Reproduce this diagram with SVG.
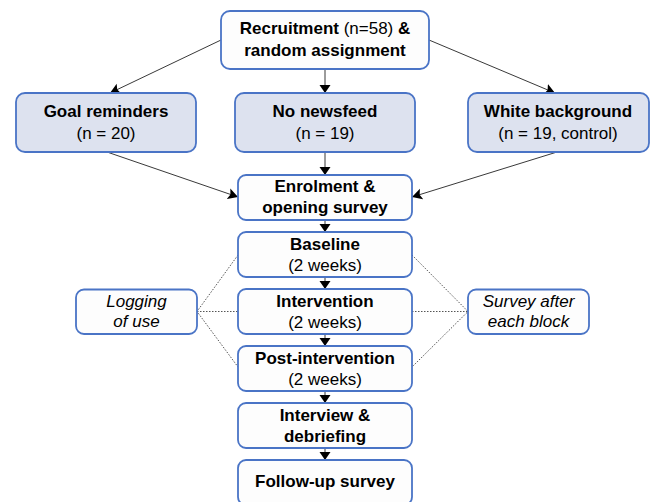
<svg xmlns="http://www.w3.org/2000/svg" width="652" height="502" viewBox="0 0 652 502">
<style>
.box{fill:#fdfdfd;stroke:#4a74c6;stroke-width:1.8}
.grp{fill:#dde2ef;stroke:#4a74c6;stroke-width:1.8}
.t{font-family:"Liberation Sans",Arial,sans-serif;font-size:17px;fill:#000;text-anchor:middle}
.b{font-weight:bold}
.i{font-style:italic}
.ln{fill:none;stroke:#222;stroke-width:0.9}
.dt{fill:none;stroke:#555;stroke-width:1;stroke-dasharray:1.5 1.5}
</style>
<defs>
<marker id="arr" markerUnits="userSpaceOnUse" markerWidth="12" markerHeight="12" viewBox="0 0 12 12" refX="10" refY="6" orient="auto">
<path d="M0,0.5 L10,6 L0,11.5 L2,6 Z" fill="#000"/>
</marker>
<marker id="tri" markerUnits="userSpaceOnUse" markerWidth="12" markerHeight="12" viewBox="0 0 12 12" refX="8" refY="6" orient="auto">
<path d="M0,0.5 L8,6 L0,11.5 Z" fill="#000"/>
</marker>
</defs>
<g id="connectors">
<line class="ln" x1="221" y1="40" x2="110" y2="93" marker-end="url(#arr)"/>
<line class="ln" x1="325" y1="69" x2="325" y2="93" marker-end="url(#tri)"/>
<line class="ln" x1="429" y1="40" x2="555" y2="93" marker-end="url(#arr)"/>
<line class="ln" x1="107" y1="152" x2="238" y2="197" marker-end="url(#arr)"/>
<line class="ln" x1="325" y1="152" x2="325" y2="175" marker-end="url(#tri)"/>
<line class="ln" x1="557" y1="152" x2="412" y2="197" marker-end="url(#arr)"/>
<line class="ln" x1="325" y1="220" x2="325" y2="232" marker-end="url(#tri)"/>
<line class="ln" x1="325" y1="277" x2="325" y2="289" marker-end="url(#tri)"/>
<line class="ln" x1="325" y1="334" x2="325" y2="346" marker-end="url(#tri)"/>
<line class="ln" x1="325" y1="391" x2="325" y2="403" marker-end="url(#tri)"/>
<line class="ln" x1="325" y1="448" x2="325" y2="460" marker-end="url(#tri)"/>
<polyline class="dt" points="238,255 197,311.5 238,367"/>
<line class="dt" x1="197" y1="311.5" x2="238" y2="311.5"/>
<polyline class="dt" points="412,255 468,311.5 412,367"/>
<line class="dt" x1="412" y1="311.5" x2="468" y2="311.5"/>
</g>
<g id="recruitment">
<rect class="box" x="221" y="11" width="208" height="58" rx="9"/>
<text class="t" x="325" y="34"><tspan class="b">Recruitment</tspan> (n=58) <tspan class="b">&amp;</tspan></text>
<text class="t b" x="325" y="56">random assignment</text>
</g>
<g id="goal">
<rect class="grp" x="16" y="93" width="180" height="59" rx="9"/>
<text class="t b" x="106" y="117">Goal reminders</text>
<text class="t" x="106" y="139">(n = 20)</text>
</g>
<g id="nonewsfeed">
<rect class="grp" x="235" y="93" width="180" height="59" rx="9"/>
<text class="t b" x="325" y="117">No newsfeed</text>
<text class="t" x="325" y="139">(n = 19)</text>
</g>
<g id="white">
<rect class="grp" x="468" y="93" width="181" height="59" rx="9"/>
<text class="t b" x="558" y="117">White background</text>
<text class="t" x="558" y="139">(n = 19, control)</text>
</g>
<g id="enrolment">
<rect class="box" x="238" y="175" width="174" height="45" rx="8"/>
<text class="t b" x="325" y="192">Enrolment &amp;</text>
<text class="t b" x="325" y="213">opening survey</text>
</g>
<g id="baseline">
<rect class="box" x="238" y="232" width="174" height="45" rx="8"/>
<text class="t b" x="325" y="249.5">Baseline</text>
<text class="t" x="325" y="270.5">(2 weeks)</text>
</g>
<g id="intervention">
<rect class="box" x="238" y="289" width="174" height="45" rx="8"/>
<text class="t b" x="325" y="306.5">Intervention</text>
<text class="t" x="325" y="327.5">(2 weeks)</text>
</g>
<g id="postintervention">
<rect class="box" x="238" y="346" width="174" height="45" rx="8"/>
<text class="t b" x="325" y="363.5">Post-intervention</text>
<text class="t" x="325" y="384.5">(2 weeks)</text>
</g>
<g id="interview">
<rect class="box" x="238" y="403" width="174" height="45" rx="8"/>
<text class="t b" x="325" y="420.5">Interview &amp;</text>
<text class="t b" x="325" y="441.5">debriefing</text>
</g>
<g id="followup">
<rect class="box" x="238" y="460" width="174" height="45" rx="8"/>
<text class="t b" x="325" y="487">Follow-up survey</text>
</g>
<g id="logging">
<rect class="box" x="76" y="289.5" width="121" height="44.5" rx="8"/>
<text class="t i" x="136.5" y="306.5">Logging</text>
<text class="t i" x="136.5" y="327">of use</text>
</g>
<g id="survey">
<rect class="box" x="468" y="289.5" width="121" height="44.5" rx="8"/>
<text class="t i" x="528.5" y="306.5">Survey after</text>
<text class="t i" x="528.5" y="327">each block</text>
</g>
</svg>
